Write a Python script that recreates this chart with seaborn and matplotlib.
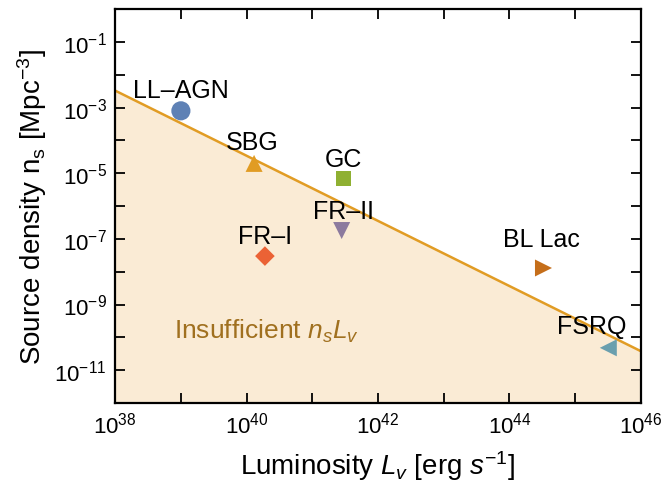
import numpy as np
import pandas as pd
import seaborn as sns
import matplotlib.pyplot as plt
from matplotlib.ticker import FixedLocator, NullLocator

# source classes: luminosity [erg/s] and number density [Mpc^-3]
classes = ["LL–AGN", "SBG", "GC", "FR–II", "FR–I", "BL Lac", "FSRQ"]
luminosity = [1.0e39, 1.3e40, 3.0e41, 2.8e41, 1.9e40, 3.3e44, 3.2e45]
density = [8.0e-4, 2.0e-5, 7.0e-6, 1.8e-7, 3.0e-8, 1.3e-8, 4.8e-11]
colors = ["#5E81B5", "#E19C24", "#8FB032", "#8C7A9E", "#EB6235", "#C56E1A", "#6A9FAE"]
markers = ["o", "^", "s", "v", "D", ">", "<"]
sizes = [190, 150, 110, 150, 100, 150, 150]
# label centres (data coords)
label_x = [1.0e39, 1.2e40, 3.0e41, 3.0e41, 1.9e40, 3.1e44, 1.8e45]
label_y = [3.5e-3, 9.0e-5, 2.8e-5, 7.0e-7, 1.2e-7, 1.0e-7, 2.2e-10]

# n_s * L_v = const boundary
line_lum = [1e38, 1e46]
line_dens = [3.3e-3, 3.8e-11]

df = pd.DataFrame({"cls": classes, "L": luminosity, "n": density})

sns.set_style("ticks", {"axes.edgecolor": "black", "xtick.color": "black",
                        "ytick.color": "black", "text.color": "black",
                        "axes.labelcolor": "black"})
plt.rcParams["font.family"] = ["Liberation Sans", "DejaVu Sans"]
plt.rcParams["mathtext.fontset"] = "custom"
plt.rcParams["mathtext.rm"] = "Liberation Sans"
plt.rcParams["mathtext.it"] = "Liberation Sans:italic"

fig = plt.figure(figsize=(6.62, 4.85), dpi=100)
ax = fig.add_axes([0.174, 0.167, 0.794, 0.812])
ax.set_xscale("log")
ax.set_yscale("log")

ax.fill_between(line_lum, [1e-13, 1e-13], line_dens, color="#FAEBD5", lw=0, zorder=0)
sns.lineplot(x=line_lum, y=line_dens, ax=ax, color="#E19C24", lw=1.8, zorder=1)

sns.scatterplot(data=df, x="L", y="n", hue="cls", style="cls", size="cls",
                palette=dict(zip(classes, colors)),
                markers=dict(zip(classes, markers)),
                sizes=dict(zip(classes, sizes)),
                linewidth=0, legend=False, ax=ax, zorder=3)

for name, x, y in zip(classes, label_x, label_y):
    ax.text(x, y, name, ha="center", va="center", fontsize=18, color="black")

ax.text(2.0e40, 1.6e-10, r"Insufficient $n_sL_v$", ha="center", va="center",
        fontsize=19, color="#A0701F")

ax.set_xlim(1e38, 1e46)
ax.set_ylim(1e-12, 1e0)

xt = [10.0**k for k in range(38, 47)]
yt = [10.0**k for k in range(-12, 1)]
ax.xaxis.set_major_locator(FixedLocator(xt))
ax.yaxis.set_major_locator(FixedLocator(yt))
ax.xaxis.set_minor_locator(NullLocator())
ax.yaxis.set_minor_locator(NullLocator())
ax.set_xticklabels([rf"$10^{{{k}}}$" if k % 2 == 0 else "" for k in range(38, 47)])
ax.set_yticklabels([rf"$10^{{{k}}}$" if k % 2 != 0 else "" for k in range(-12, 1)])

ax.tick_params(direction="in", length=7, width=1.3, labelsize=16, top=True, right=True, pad=6)
for s in ax.spines.values():
    s.set_linewidth(1.6)
    s.set_visible(True)

ax.set_xlabel(r"Luminosity $L_v$ [erg $s^{-1}$]", fontsize=20, labelpad=8)
ax.set_ylabel(r"Source density n$_\mathrm{s}$ [Mpc$^{-3}$]", fontsize=20, labelpad=4)

fig.savefig("out.png", dpi=100)
